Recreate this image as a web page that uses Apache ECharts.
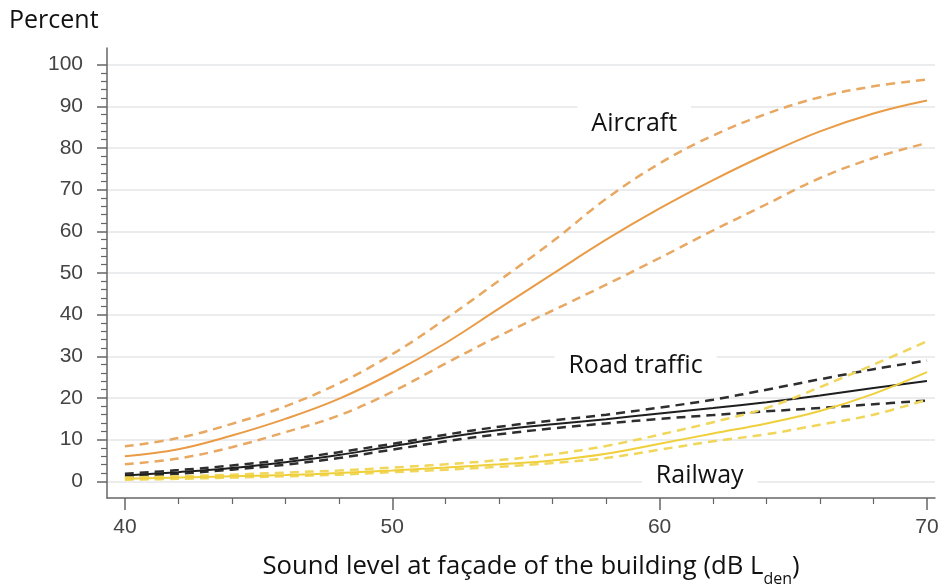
<!DOCTYPE html>
<html><head><meta charset="utf-8">
<script src="https://cdn.jsdelivr.net/npm/echarts@6/dist/echarts.min.js"></script>
<style>html,body{margin:0;padding:0;background:#fff}#c{width:942px;height:587px}</style>
</head><body><div id="c"></div>
<script>
// ---- data (percent highly annoyed vs Lden) ----
const soundLevels = [40, 42, 44, 46, 48, 50, 52, 54, 56, 58, 60, 62, 64, 66, 68, 70];
const aircraft      = [6.0, 7.7, 11.0, 15.0, 19.8, 26.0, 33.2, 41.5, 49.8, 58.0, 65.5, 72.3, 78.5, 84.0, 88.3, 91.4];
const aircraftUpper = [8.4, 10.4, 13.8, 18.0, 23.5, 30.5, 39.0, 48.2, 57.6, 67.8, 76.3, 83.0, 88.2, 92.2, 94.8, 96.4];
const aircraftLower = [4.1, 5.5, 8.2, 11.8, 15.8, 21.5, 28.3, 34.9, 41.0, 47.2, 53.6, 60.2, 66.5, 72.8, 77.6, 81.2];
const road      = [1.4, 2.2, 3.2, 4.6, 6.3, 8.4, 10.5, 12.3, 13.7, 14.9, 16.3, 17.6, 19.0, 20.6, 22.4, 24.1];
const roadUpper = [1.8, 2.7, 3.8, 5.2, 7.0, 9.0, 11.2, 13.1, 14.6, 16.0, 17.7, 19.6, 22.0, 24.5, 26.9, 29.0];
const roadLower = [1.0, 1.8, 2.8, 4.0, 5.6, 7.6, 9.6, 11.3, 12.7, 13.9, 15.0, 15.9, 16.8, 17.6, 18.5, 19.4];
const railway      = [0.6, 0.9, 1.2, 1.5, 2.0, 2.6, 3.3, 4.1, 5.0, 6.6, 9.0, 11.5, 13.9, 16.9, 21.0, 26.2];
const railwayUpper = [0.9, 1.2, 1.6, 2.1, 2.6, 3.3, 4.1, 5.1, 6.5, 8.5, 11.2, 14.2, 17.6, 22.6, 28.0, 33.6];
const railwayLower = [0.4, 0.6, 0.9, 1.2, 1.6, 2.2, 2.8, 3.5, 4.4, 5.6, 7.6, 9.6, 11.3, 13.6, 16.0, 19.6];

const yTickLabels = [0, 10, 20, 30, 40, 50, 60, 70, 80, 90, 100];
const yMinorTicks = [2,4,6,8,12,14,16,18,22,24,26,28,32,34,36,38,42,44,46,48,52,54,56,58,62,64,66,68,72,74,76,78,82,84,86,88,92,94,96,98];
const xTickLabels = [40, 50, 60, 70];
const xMinorTicks = [42,44,46,48,52,54,56,58,62,64,66,68];

const curveNames = ['Aircraft', 'Road traffic', 'Railway'];
// label anchor points in data units
const labelAnchors = [[59.05, 85.9], [59.1, 27.8], [61.5, 1.4]];

const pairs = ys => soundLevels.map((x, i) => [x, ys[i]]);

const AIR = '#E99B45', AIRD = '#E8A862';
const ROAD = '#1E1E1E', ROADD = '#2E2E2E';
const RAIL = '#EFCF3A', RAILD = '#F0D65A';
const dash = [9, 6];

function line(name, ys, color, width, type) {
  return {
    name, type: 'line', data: pairs(ys), showSymbol: false, symbol: 'none',
    smooth: 0.4, xAxisIndex: 0, yAxisIndex: 0,
    lineStyle: { color, width, type }, itemStyle: { color }, silent: true
  };
}

const chart = echarts.init(document.getElementById('c'), null, { renderer: 'canvas' });
const axisColor = '#666';
const labelFont = { fontFamily: 'Liberation Sans, Arial', fontSize: 21, color: '#444' };

chart.setOption({
  animation: false,
  backgroundColor: '#fff',
  title: {
    text: 'Percent', left: 9, top: 8, padding: 0,
    textStyle: { fontFamily: 'Open Sans', fontSize: 25, fontWeight: 'normal', color: '#111' }
  },
  grid: { left: 107, right: 7, top: 48, bottom: 89, containLabel: false, outerBoundsMode: 'none' },
  xAxis: [
    {
      type: 'value', min: 39.33, max: 70.3,
      axisLine: { show: true, onZero: false, lineStyle: { color: axisColor, width: 1.5 } },
      axisTick: { show: true, customValues: xTickLabels, length: 12, lineStyle: { color: axisColor, width: 1.5 } },
      axisLabel: { show: true, customValues: xTickLabels, margin: 19, ...labelFont },
      splitLine: { show: false },
      name: '{m|Sound level at façade of the building (dB L}{sub|den}{m|)}',
      nameLocation: 'middle', nameGap: 56,
      nameTextStyle: {
        fontFamily: 'Open Sans', fontSize: 25.7, color: '#111', padding: [0, 0, 0, 20],
        rich: {
          m: { fontFamily: 'Open Sans', fontSize: 25.7, color: '#111', lineHeight: 32, verticalAlign: 'top' },
          sub: { fontFamily: 'Open Sans', fontSize: 16, color: '#111', lineHeight: 16, padding: [17, 0, 0, 0], verticalAlign: 'top' }
        }
      }
    },
    {
      type: 'value', min: 39.33, max: 70.3, position: 'bottom',
      axisLine: { show: false, onZero: false },
      axisTick: { show: true, customValues: xMinorTicks, length: 6, lineStyle: { color: axisColor, width: 1.2 } },
      axisLabel: { show: false }, splitLine: { show: false }
    }
  ],
  yAxis: [
    {
      type: 'value', min: -4, max: 104,
      axisLine: { show: true, onZero: false, lineStyle: { color: axisColor, width: 1.5 } },
      axisTick: { show: true, customValues: yTickLabels, length: 10, lineStyle: { color: axisColor, width: 1.5 } },
      axisLabel: { show: true, customValues: yTickLabels, margin: 24, ...labelFont },
      splitLine: { show: true, lineStyle: { color: '#E3E6E8', width: 1.5 } }
    },
    {
      type: 'value', min: -4, max: 104, position: 'left',
      axisLine: { show: false, onZero: false },
      axisTick: { show: true, customValues: yMinorTicks, length: 6, lineStyle: { color: axisColor, width: 1.2 } },
      axisLabel: { show: false }, splitLine: { show: false }
    }
  ],
  series: [
    line('Aircraft upper', aircraftUpper, AIRD, 2.5, dash),
    line('Aircraft lower', aircraftLower, AIRD, 2.5, dash),
    line('Aircraft', aircraft, AIR, 2, 'solid'),
    line('Road traffic upper', roadUpper, ROADD, 2.5, dash),
    line('Road traffic lower', roadLower, ROADD, 2.5, dash),
    line('Road traffic', road, ROAD, 2, 'solid'),
    line('Railway upper', railwayUpper, RAILD, 2.5, dash),
    line('Railway lower', railwayLower, RAILD, 2.5, dash),
    line('Railway', railway, RAIL, 2, 'solid')
  ]
});

const graphics = curveNames.map((name, i) => {
  const p = chart.convertToPixel({ xAxisIndex: 0, yAxisIndex: 0 }, labelAnchors[i]);
  return {
    type: 'text', x: p[0], y: p[1], z: 1, silent: true,
    style: {
      text: name, fill: '#111', font: '25px "Open Sans"',
      align: 'center', verticalAlign: 'middle',
      backgroundColor: '#fff', padding: [7, 14, 7, 14]
    }
  };
});
chart.setOption({ graphic: graphics });
</script>
</body></html>
